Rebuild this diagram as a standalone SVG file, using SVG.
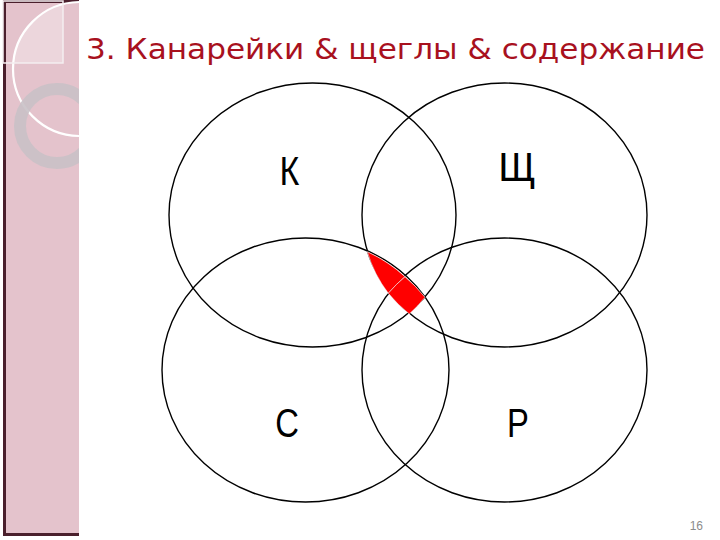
<svg xmlns="http://www.w3.org/2000/svg" width="720" height="540" viewBox="0 0 720 540">
<defs>
<style>
.set{fill:none;stroke:#000;stroke-width:1.4}
.lbl{font-family:"Liberation Sans",Arial,sans-serif;font-size:40px;fill:#000;text-anchor:middle}
.hit{fill:#ff0000;stroke:#fff;stroke-width:0.6;stroke-linejoin:round}
</style>
<clipPath id="panelClip"><rect x="5" y="0" width="74" height="532"/></clipPath>
<clipPath id="sqClip"><rect x="3" y="3" width="60" height="60"/></clipPath>
</defs>
<rect width="720" height="540" fill="#fff"/>
<g id="sidebar">
<rect x="3" y="0" width="76" height="536" fill="#4a1f2c"/>
<rect x="6" y="3" width="73" height="530" fill="#e4c3cc"/>
<g clip-path="url(#panelClip)">
<circle cx="80" cy="69" r="67" fill="#ecd6dc" clip-path="url(#sqClip)"/>
<circle cx="80" cy="69" r="67" fill="none" stroke="#fff" stroke-width="2.2"/>
<circle cx="57" cy="126" r="37" fill="none" stroke="#c9c1c6" stroke-width="12" opacity="0.9"/>
</g>
<rect x="3" y="1" width="60" height="62" fill="none" stroke="#f4eef0" stroke-width="1.5"/>
</g>
<text id="title" x="86" y="59" font-family="'DejaVu Sans',Verdana,sans-serif" font-size="29" fill="#a8111e" textLength="619" lengthAdjust="spacingAndGlyphs">3. Канарейки &amp; щеглы &amp; содержание</text>
<g id="connectors">
<ellipse id="setK" class="set" cx="312.5" cy="215" rx="143.5" ry="132"/>
<ellipse id="setSch" class="set" cx="504.5" cy="215" rx="142.5" ry="132"/>
<ellipse id="setS" class="set" cx="305.5" cy="370" rx="143.5" ry="132"/>
<ellipse id="setR" class="set" cx="504.5" cy="370" rx="142.5" ry="132"/>
</g>
<g id="highlight">
<path class="hit" d="M367.3,251.7 A143.5,132 0 0 1 405,276.7 A142.5,132 0 0 0 388.3,293.3 A142.5,132 0 0 1 367.3,251.7 Z"/>
<path class="hit" d="M388.3,293.3 A142.5,132 0 0 1 405,276.7 A143.5,132 0 0 1 425,297.3 A143.5,132 0 0 1 409.3,314 A142.5,132 0 0 1 388.3,293.3 Z"/>
</g>
<g id="nodeK"><text class="lbl" transform="translate(289.5,185) scale(0.85,1)">К</text></g>
<g id="nodeSch"><text class="lbl" transform="translate(517,181)">Щ</text></g>
<g id="nodeS"><text class="lbl" transform="translate(287,437) scale(0.82,1)">С</text></g>
<g id="nodeR"><text class="lbl" transform="translate(518,437) scale(0.82,1)">Р</text></g>
<text id="page" x="703" y="530" font-family="'Liberation Sans',Arial,sans-serif" font-size="12" fill="#8c8c8c" text-anchor="end">16</text>
</svg>
